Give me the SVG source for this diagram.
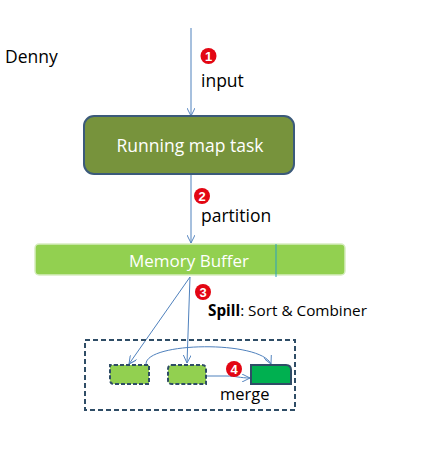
<svg xmlns="http://www.w3.org/2000/svg" width="428" height="466" viewBox="0 0 428 466">
<defs>
<style>
.lbl{font-family:"Open Sans","Liberation Sans",sans-serif;fill:#000}
.wt{font-family:"Open Sans","Liberation Sans",sans-serif;fill:#fff;text-anchor:middle}
.conn{stroke:#4F81BD;stroke-width:1;fill:none}
.badge circle{fill:#E30613}
.badge text{font-family:"Liberation Sans",sans-serif;font-weight:bold;font-size:13px;fill:#fff;text-anchor:middle}
.spill{fill:#92D050;stroke:#2F4D66;stroke-width:2;stroke-dasharray:4 2}
</style>
<marker id="ah" viewBox="0 0 10 10" refX="10" refY="5" markerWidth="8" markerHeight="8" orient="auto" markerUnits="userSpaceOnUse">
<path d="M0,0 L10,5 L0,10" fill="none" stroke="#4F81BD" stroke-width="1.2"/>
</marker>
</defs>
<rect width="428" height="466" fill="#fff"/>
<text x="5" y="63" class="lbl" font-size="17.5">Denny</text>
<g id="connectors">
<line class="conn" x1="191" y1="28" x2="191" y2="116" marker-end="url(#ah)"/>
<line class="conn" x1="191" y1="175" x2="191" y2="243" marker-end="url(#ah)"/>
<line class="conn" x1="190" y1="277" x2="129" y2="364" marker-end="url(#ah)"/>
<line class="conn" x1="190" y1="277" x2="187" y2="363" marker-end="url(#ah)"/>
<path class="conn" d="M146,364 C146,342 260,340 271,364" marker-end="url(#ah)"/>
<path class="conn" d="M206,376 L226,376 C236,376 240,378 250,378" marker-end="url(#ah)"/>
</g>
<g id="map-task">
<rect x="84" y="116" width="210" height="58" rx="10" fill="#77933C" stroke="#3B5A7A" stroke-width="2"/>
<text x="190" y="152" class="wt" font-size="17.5">Running map task</text>
</g>
<g id="memory-buffer">
<rect x="35" y="244" width="310" height="31" rx="4" fill="#92D050" stroke="#D7EDC0" stroke-width="1.5"/>
<line x1="276" y1="244" x2="276" y2="277" stroke="#2BA0C0" stroke-width="1"/>
<text x="189" y="267" class="wt" font-size="17">Memory Buffer</text>
</g>
<g id="spill-area">
<rect x="85" y="340" width="210" height="70" fill="none" stroke="#2F4D66" stroke-width="2" stroke-dasharray="5 3"/>
</g>
<g id="spill-1">
<path class="spill" d="M114,365 H149 V384 H114 Q110,384 110,380 V365 Z"/>
</g>
<g id="spill-2">
<path class="spill" d="M172,365 H202 Q206,365 206,369 V384 H172 Q168,384 168,380 V369 Q168,365 172,365 Z"/>
</g>
<g id="merged">
<path d="M251,365 H286 Q291,365 291,370 V384 H251 Z" fill="#00B050" stroke="#2F4D66" stroke-width="2"/>
</g>
<g id="badges">
<g class="badge"><circle cx="208.5" cy="56" r="8"/><text x="208.5" y="60.5">1</text></g>
<g class="badge"><circle cx="202" cy="196" r="8"/><text x="202" y="200.5">2</text></g>
<g class="badge"><circle cx="203" cy="292" r="8"/><text x="203" y="296.5">3</text></g>
<g class="badge"><circle cx="234" cy="369" r="8"/><text x="234" y="373.5">4</text></g>
</g>
<g id="labels">
<text x="201" y="87" class="lbl" font-size="17.5">input</text>
<text x="201" y="222" class="lbl" font-size="17.5">partition</text>
<text x="208" y="316" class="lbl" font-size="15.3"><tspan font-weight="bold">Spill</tspan>: Sort &amp; Combiner</text>
<text x="220" y="400" class="lbl" font-size="16.5">merge</text>
</g>
</svg>
